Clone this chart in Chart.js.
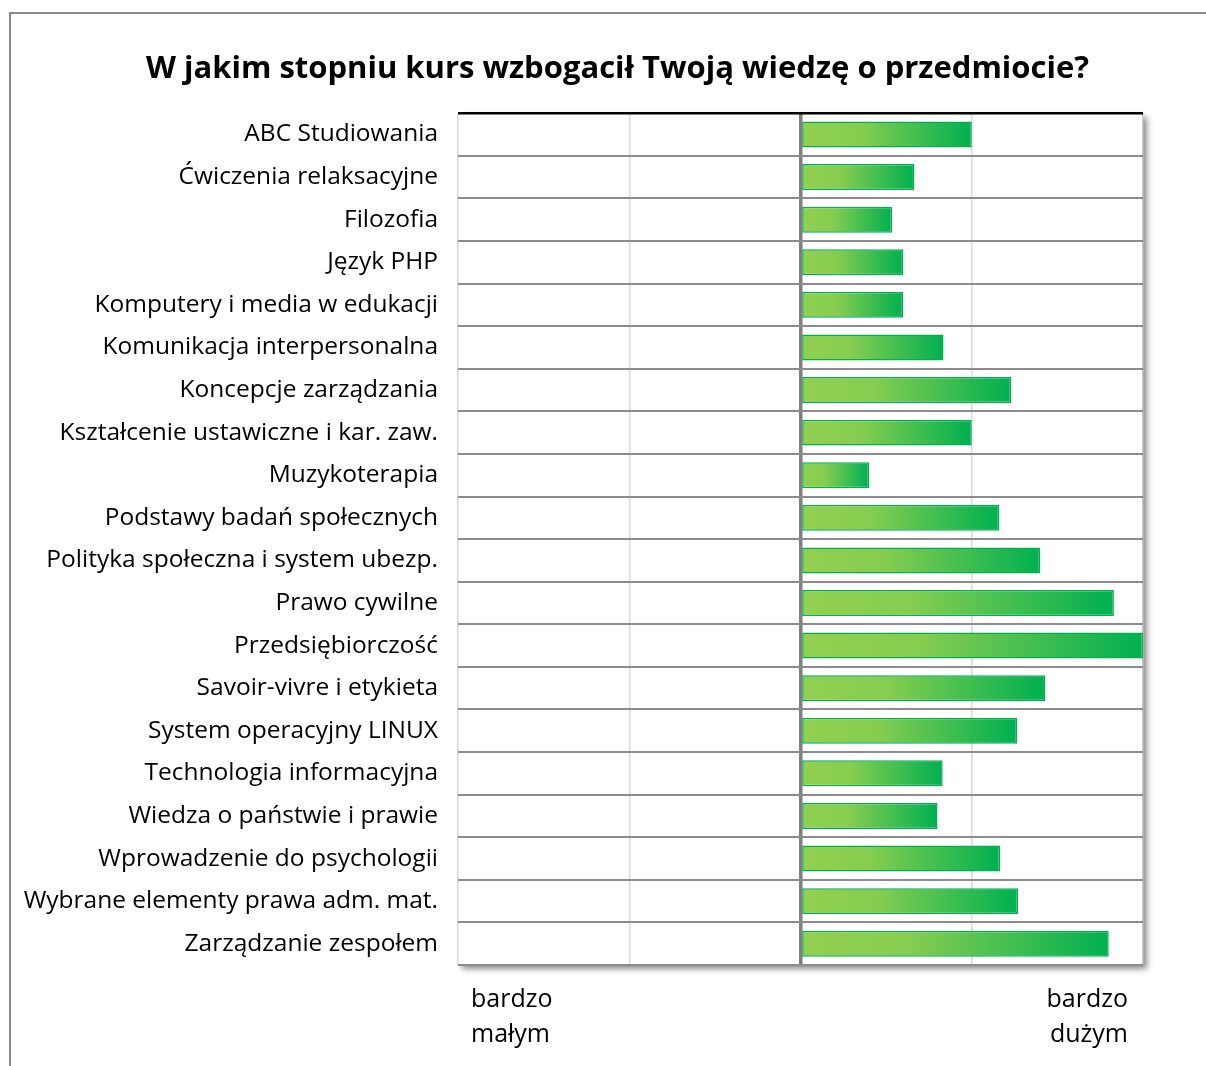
<!DOCTYPE html>
<html>
<head>
<meta charset="utf-8">
<script src="https://cdn.jsdelivr.net/npm/chart.js@4.4.1/dist/chart.umd.min.js"></script>
<style>
  html, body { margin: 0; padding: 0; background: #fff; overflow: hidden; }
  #frame { position: absolute; left: 9px; top: 12px; width: 1400px; height: 1200px; border: 2px solid #8c8c8c; }
  #wrap { position: absolute; left: 0; top: 0; width: 1206px; height: 1066px; }
  .end { position: absolute; font-family: "Open Sans", sans-serif; font-size: 25px; line-height: 35px; color: #000; }
</style>
</head>
<body>
<div id="frame"></div>
<div id="wrap"><canvas id="chart"></canvas></div>
<div class="end" style="left:471px; top:980px;">bardzo<br>małym</div>
<div class="end" style="right:78px; top:980px; text-align:right;">bardzo<br>dużym</div>
<script>
// kursy i oceny (skala -2 .. 2)
const courses = [
  "ABC Studiowania",
  "Ćwiczenia relaksacyjne",
  "Filozofia",
  "Język PHP",
  "Komputery i media w edukacji",
  "Komunikacja interpersonalna",
  "Koncepcje zarządzania",
  "Kształcenie ustawiczne i kar. zaw.",
  "Muzykoterapia",
  "Podstawy badań społecznych",
  "Polityka społeczna i system ubezp.",
  "Prawo cywilne",
  "Przedsiębiorczość",
  "Savoir-vivre i etykieta",
  "System operacyjny LINUX",
  "Technologia informacyjna",
  "Wiedza o państwie i prawie",
  "Wprowadzenie do psychologii",
  "Wybrane elementy prawa adm. mat.",
  "Zarządzanie zespołem"
]
const scores = [1.0, 0.665, 0.535, 0.6, 0.6, 0.835, 1.23, 1.0, 0.4, 1.16,
  1.4, 1.83, 2.0, 1.43, 1.265, 0.83, 0.8, 1.165, 1.27, 1.8]
const xTicks = [-2, -1, 0, 1, 2]

// cien pod obszarem wykresu
const areaShadow = {
  id: "areaShadow",
  beforeDraw(chart) {
    const { ctx, chartArea: a } = chart
    ctx.save()
    ctx.shadowColor = "rgba(0,0,0,0.45)"
    ctx.shadowBlur = 6
    ctx.shadowOffsetX = 4
    ctx.shadowOffsetY = 4
    ctx.fillStyle = "#fff"
    ctx.fillRect(a.left, a.top, a.right - a.left, a.bottom - a.top)
    ctx.restore()
  }
}

// przesuniecie tytulu w prawo, jak w oryginale
const shiftTitle = {
  id: "shiftTitle",
  afterLayout(chart) {
    if (chart.titleBlock) {
      chart.titleBlock.left += 41
      chart.titleBlock.right += 41
    }
  }
}

const barFill = (context) => {
  const chart = context.chart
  const x = chart.scales.x
  if (!x || !chart.chartArea) return "#92D050"
  const v = context.raw
  const x0 = x.getPixelForValue(0)
  const x1 = x.getPixelForValue(v)
  const g = chart.ctx.createLinearGradient(x0, 0, x1, 0)
  g.addColorStop(0, "#92D050")
  g.addColorStop(0.35, "#86CD50")
  g.addColorStop(1, "#00B050")
  return g
}

const ctx = document.getElementById("chart").getContext("2d")
new Chart(ctx, {
  type: "bar",
  data: {
    labels: courses,
    datasets: [{
      data: scores,
      backgroundColor: barFill,
      borderColor: "#00B050",
      borderWidth: 1.5,
      borderSkipped: false,
      categoryPercentage: 1,
      barPercentage: 0.61
    }]
  },
  options: {
    indexAxis: "y",
    responsive: true,
    maintainAspectRatio: false,
    animation: false,
    layout: { padding: { left: 10, right: 63, top: 51, bottom: 101 } },
    plugins: {
      legend: { display: false },
      tooltip: { enabled: false },
      title: {
        display: true,
        text: "W jakim stopniu kurs wzbogacił Twoją wiedzę o przedmiocie?",
        color: "#000",
        font: { family: "Open Sans", size: 31, weight: "bold" },
        padding: { top: 0, bottom: 25 }
      }
    },
    scales: {
      x: {
        min: -2,
        max: 2,
        afterBuildTicks: (scale) => { scale.ticks = xTicks.map((v) => ({ value: v })) },
        ticks: { display: false },
        border: { display: false },
        grid: {
          drawTicks: false,
          color: (c) => {
            const v = c.tick ? c.tick.value : null
            if (v === 0) return "#7f7f7f"
            if (v === 2) return "#c8c8c8"
            return "#d9d9d9"
          },
          lineWidth: (c) => (c.tick && c.tick.value === 0 ? 3.5 : 1.5)
        }
      },
      y: {
        afterFit: (scale) => { scale.width = 448 },
        border: { display: false },
        ticks: {
          color: "#000",
          font: { family: "Open Sans", size: 24.5 },
          padding: 20
        },
        grid: {
          offset: true,
          drawTicks: false,
          color: (c) => {
            if (c.index === 0) return "#000"
            if (c.index === courses.length) return "#dddddd"
            return "#8c8c8c"
          },
          lineWidth: (c) => (c.index === 0 ? 2.5 : 2)
        }
      }
    }
  },
  plugins: [areaShadow, shiftTitle]
})
</script>
</body>
</html>
